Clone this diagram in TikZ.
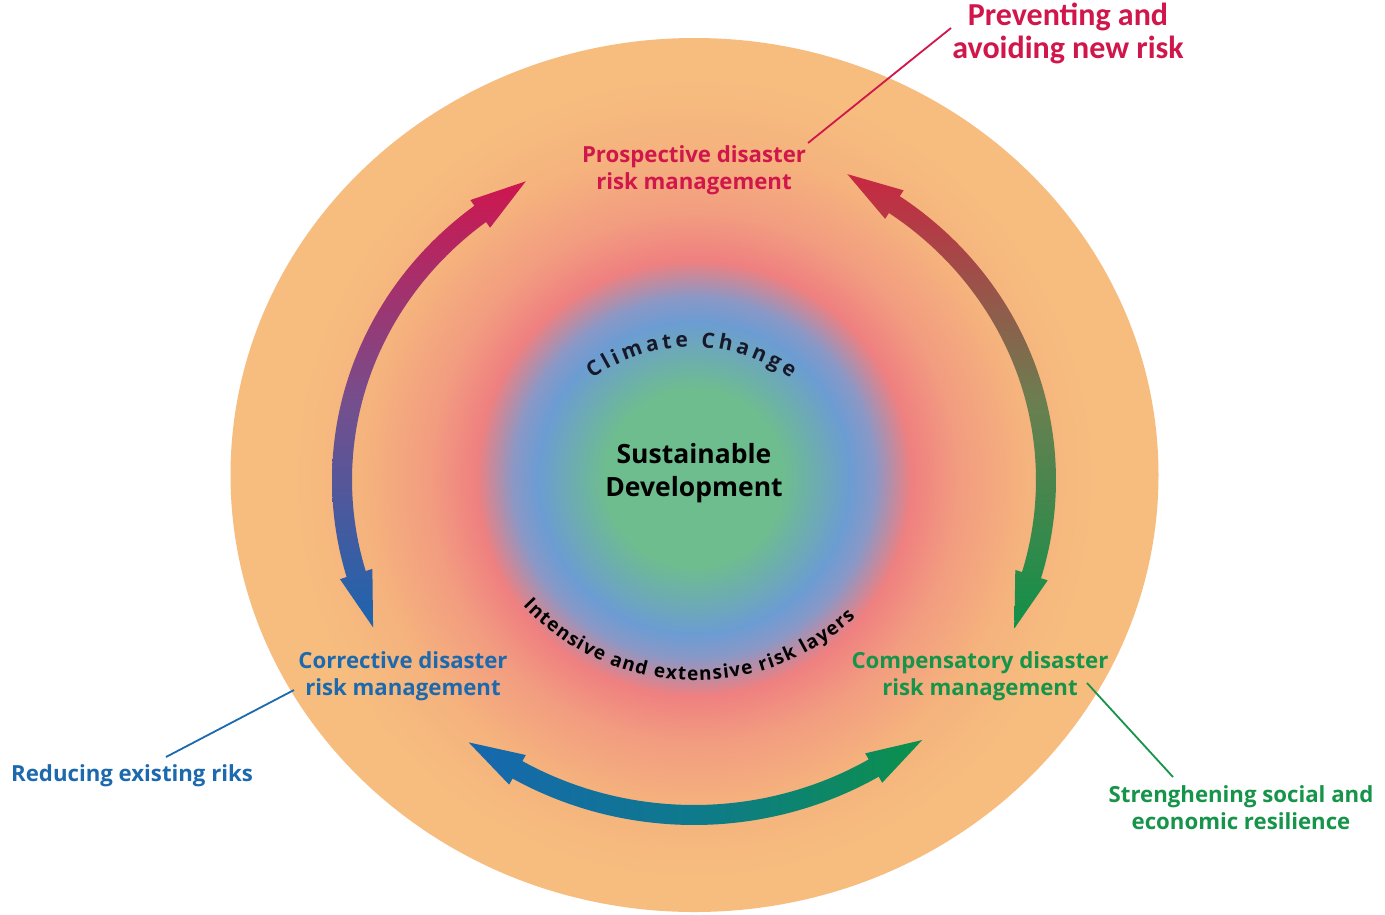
\documentclass[tikz,border=0pt]{standalone}
\usepackage{fontspec}
\setmainfont{Open Sans}
\newfontfamily\calfont{Carlito}
\usetikzlibrary{calc,decorations.text}

\definecolor{cOrange}{HTML}{F6BD7F}
\definecolor{cGreen}{HTML}{6EBD8E}
\definecolor{cBlue}{HTML}{6C9CD3}
\definecolor{cBlueb}{HTML}{8A98C6}
\definecolor{cPink}{HTML}{EF8080}
\definecolor{cSalmon}{HTML}{F29C80}
\definecolor{cOrangeb}{HTML}{F5B27D}
\definecolor{cRed}{HTML}{D3134B}
\definecolor{cRedb}{HTML}{CC2442}
\definecolor{cBlueD}{HTML}{1766B0}
\definecolor{cGreenD}{HTML}{0C9148}
\definecolor{cTeal}{HTML}{0E7A8C}
\definecolor{cPurple}{HTML}{744F8E}
\definecolor{cOlive}{HTML}{6A7F50}
\definecolor{txtRed}{HTML}{D0164A}
\definecolor{txtBlue}{HTML}{1C69AE}
\definecolor{txtGreen}{HTML}{15944A}
\definecolor{cDark}{HTML}{17182A}

\pgfdeclareradialshading{core}{\pgfpoint{0bp}{0bp}}{%
 color(0bp)=(cGreen); color(5.5bp)=(cGreen); color(9.8bp)=(cBlue); color(11.3bp)=(cBlueb);
 color(13.6bp)=(cPink); color(16.5bp)=(cSalmon); color(20.5bp)=(cOrangeb);
 color(25bp)=(cOrange); color(50bp)=(cOrange)}

\def\Cx{694}\def\Cy{480}\def\Rx{352}\def\Ry{335}
\def\hw{10}\def\HW{17}\def\HL{56}\def\HA{9.4}

\newcommand\arcarrow[4]{%
 \pgfmathsetmacro\sg{sign(#2-#1)}%
 \pgfmathsetmacro\aA{#1+\sg*\HA}%
 \pgfmathsetmacro\aB{#2-\sg*\HA}%
 \pgfmathsetmacro\aAo{\aA-\sg*0.6}%
 \pgfmathsetmacro\aBo{\aB+\sg*0.6}%
 \pgfmathsetmacro\aAn{\aA-\sg}%
 \pgfmathsetmacro\aBn{\aB+\sg}%
 \coordinate (bA) at ({\Cx+\Rx*cos(\aA)},{\Cy+\Ry*sin(\aA)});
 \coordinate (nA) at ({\Cx+\Rx*cos(\aAn)},{\Cy+\Ry*sin(\aAn)});
 \coordinate (bB) at ({\Cx+\Rx*cos(\aB)},{\Cy+\Ry*sin(\aB)});
 \coordinate (nB) at ({\Cx+\Rx*cos(\aBn)},{\Cy+\Ry*sin(\aBn)});
 \begin{scope}
  \clip plot[domain=\aAo:\aBo,samples=60] ({\Cx+(\Rx+\hw)*cos(\x)},{\Cy+(\Ry+\hw)*sin(\x)})
     -- plot[domain=\aBo:\aAo,samples=60] ({\Cx+(\Rx-\hw)*cos(\x)},{\Cy+(\Ry-\hw)*sin(\x)}) -- cycle;
  \shade[#3] #4;
 \end{scope}
 \begin{scope}
  \clip ($(bA)!\HL pt!(nA)$) -- ($(bA)!\HW pt!90:(nA)$) -- ($(bA)!\HW pt!-90:(nA)$) -- cycle;
  \shade[#3] #4;
 \end{scope}
 \begin{scope}
  \clip ($(bB)!\HL pt!(nB)$) -- ($(bB)!\HW pt!90:(nB)$) -- ($(bB)!\HW pt!-90:(nB)$) -- cycle;
  \shade[#3] #4;
 \end{scope}
}

\begin{document}
\begin{tikzpicture}[x=1pt,y=-1pt,
  lab/.style={font=\bfseries\fontsize{22.2}{27}\selectfont, align=center, inner sep=0pt},
  lead/.style={line width=1.8pt}]
\useasboundingbox (0,0) rectangle (1385,914);
\fill[white] (0,0) rectangle (1385,914);
\fill[cOrange] (694.5,475) ellipse [x radius=464pt, y radius=437pt];
\shade[shading=core] (694,478) circle [radius=400pt];

% arrows
\arcarrow{242}{154.3}{top color=cRed, bottom color=cBlueD, middle color=cPurple}{(320,170) rectangle (560,640)}
\arcarrow{295.3}{385.9}{top color=cRedb, bottom color=cGreenD, middle color=cOlive}{(830,165) rectangle (1070,640)}
\arcarrow{129.5}{49.9}{left color=cBlueD, right color=cGreenD, middle color=cTeal}{(460,700) rectangle (930,830)}

% curved texts
\path[decorate, decoration={text along path,
   text={|\bfseries\fontsize{21}{21}\selectfont|Climate Change},
   text color=cDark, text align={fit to path}}]
   plot[domain=234.5:305, samples=50] ({692+172*cos(\x)},{519+172*sin(\x)});
\path[decorate, decoration={text along path,
   text={|\bfseries\fontsize{19}{19}\selectfont|Intensive and extensive risk layers},
   text color=black, text align={fit to path}}]
   plot[domain=137:47, samples=60] ({695+235.5*cos(\x)},{445+235.5*sin(\x)});

% nodes
\node[font=\bfseries\fontsize{26.5}{33}\selectfont, align=center, inner sep=0pt, text=black] (sd) at (694,473) {Sustainable\\Development};
\node[lab, text=txtRed] (prosp) at (694,170) {Prospective disaster\\risk management};
\node[lab, text=txtBlue] (corr) at (403,676) {Corrective disaster\\risk management};
\node[lab, text=txtGreen] (comp) at (980,676) {Compensatory disaster\\risk management};
\node[font=\calfont\bfseries\fontsize{32}{33}\selectfont, align=center, inner sep=0pt, text=txtRed] (prev) at (1068,33) {Preventing and\\avoiding new risk};
\node[lab, text=txtBlue, anchor=west] (red) at (11,776) {Reducing existing riks};
\node[lab, text=txtGreen] (str) at (1241,808) {Strenghening social and\\economic resilience};

% leader lines
\coordinate (l1a) at (808,143); \coordinate (l1b) at (951,28);
\coordinate (l2a) at (294,690); \coordinate (l2b) at (166,757);
\coordinate (l3a) at (1087,683); \coordinate (l3b) at (1173,777);
\draw[lead, txtRed] (l1a) -- (l1b);
\draw[lead, txtBlue] (l2a) -- (l2b);
\draw[lead, txtGreen] (l3a) -- (l3b);
\end{tikzpicture}
\end{document}
